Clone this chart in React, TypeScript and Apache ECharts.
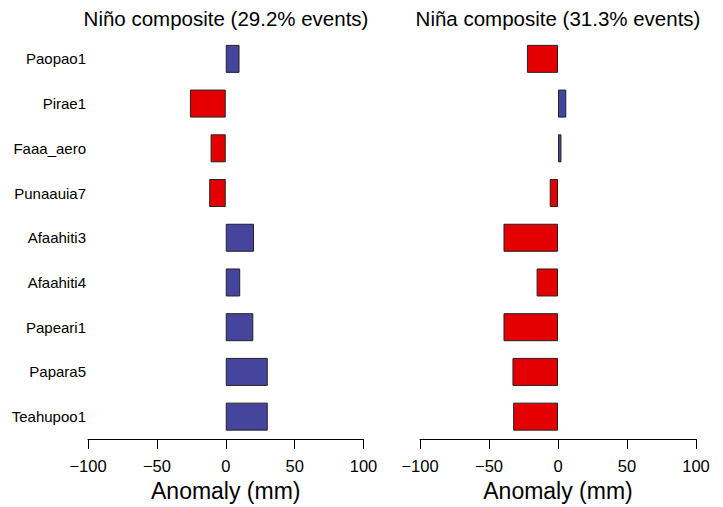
import React, { useEffect, useRef } from "react";
import * as echarts from "echarts";

const stations = [
  "Paopao1",
  "Pirae1",
  "Faaa_aero",
  "Punaauia7",
  "Afaahiti3",
  "Afaahiti4",
  "Papeari1",
  "Papara5",
  "Teahupoo1",
];
const ninoValues = [10, -26, -11, -12, 20.5, 10.5, 20, 30.5, 30.5];
const ninaValues = [-22.5, 6, 2.5, -6, -39.5, -15.5, -39.5, -33, -32.5];
const ninoTitle = "Niño composite (29.2% events)";
const ninaTitle = "Niña composite (31.3% events)";
const axisTitle = "Anomaly (mm)";
const xTicks = [-100, -50, 0, 50, 100];

const FONT = "Liberation Sans, Arial, Helvetica, sans-serif";
const BLUE = "#45459e";
const RED = "#e40000";

export default function App() {
  const ref = useRef<HTMLDivElement>(null);
  useEffect(() => {
    if (!ref.current) return;
    const chart = echarts.init(ref.current, null, { renderer: "svg" });
    const grids = [
      { left: 88, width: 275.5, top: 36.5, height: 405 },
      { left: 420, width: 276, top: 36.5, height: 405 },
    ];
    const mkX = (gridIndex: number) => ({
      type: "value",
      gridIndex,
      min: xTicks[0],
      max: xTicks[xTicks.length - 1],
      interval: 50,
      splitLine: { show: false },
      axisLine: { show: true, onZero: false, lineStyle: { color: "#000", width: 1 } },
      axisTick: { show: true, length: 10, lineStyle: { color: "#000", width: 1 } },
      axisLabel: {
        color: "#000",
        fontSize: 16.5,
        fontFamily: FONT,
        margin: 18,
        formatter: (v: number) => (v < 0 ? "\u2212" + Math.abs(v) : String(v)),
      },
      name: axisTitle,
      nameLocation: "middle",
      nameGap: 40,
      nameTextStyle: { color: "#000", fontSize: 23, fontFamily: FONT },
    });
    const mkY = (gridIndex: number, showLabels: boolean) => ({
      type: "category",
      gridIndex,
      data: stations,
      inverse: true,
      axisLine: { show: false },
      axisTick: { show: false },
      splitLine: { show: false },
      axisLabel: {
        show: showLabels,
        color: "#000",
        fontSize: 15,
        fontFamily: FONT,
        margin: 2,
      },
    });
    const mkSeries = (idx: number, values: number[]) => ({
      type: "bar",
      xAxisIndex: idx,
      yAxisIndex: idx,
      data: values,
      barWidth: 28,
      itemStyle: {
        color: (p: any) => (p.value >= 0 ? BLUE : RED),
        borderColor: "#222",
        borderWidth: 1,
      },
    });
    chart.setOption({
      animation: false,
      backgroundColor: "#fff",
      grid: grids,
      xAxis: [mkX(0), mkX(1)],
      yAxis: [mkY(0, true), mkY(1, false)],
      series: [mkSeries(0, ninoValues), mkSeries(1, ninaValues)],
      graphic: [
        {
          type: "text",
          x: 226,
          y: 18,
          style: {
            text: ninoTitle,
            fontSize: 20.5,
            fontFamily: FONT,
            fill: "#000",
            textAlign: "center",
            textVerticalAlign: "middle",
          },
        },
        {
          type: "text",
          x: 558,
          y: 18,
          style: {
            text: ninaTitle,
            fontSize: 20.5,
            fontFamily: FONT,
            fill: "#000",
            textAlign: "center",
            textVerticalAlign: "middle",
          },
        },
      ],
    });
    return () => chart.dispose();
  }, []);
  return <div ref={ref} style={{ width: 723, height: 507, position: "absolute", left: 0, top: 0 }} />;
}
